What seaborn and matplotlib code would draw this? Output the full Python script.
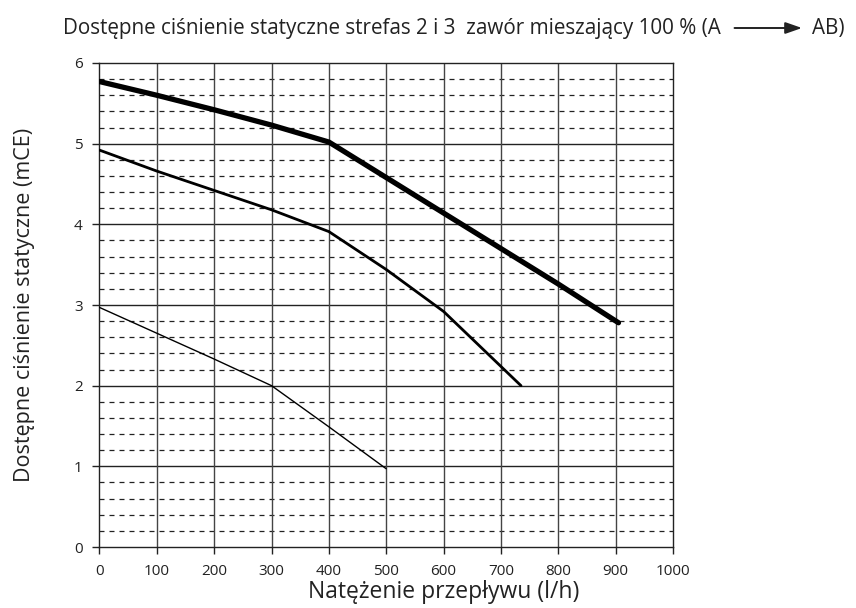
import matplotlib
matplotlib.use("Agg")
import matplotlib.pyplot as plt
import seaborn as sns
import pandas as pd
import numpy as np

# flow (l/h) vs available static pressure (mCE)
flow_high = [0, 100, 200, 300, 400, 500, 600, 700, 800, 905]
head_high = [5.77, 5.60, 5.42, 5.23, 5.02, 4.58, 4.14, 3.70, 3.26, 2.78]

flow_mid = [0, 100, 200, 300, 400, 500, 600, 735]
head_mid = [4.92, 4.66, 4.42, 4.18, 3.91, 3.44, 2.92, 2.00]

flow_low = [0, 100, 200, 300, 400, 500]
head_low = [2.97, 2.65, 2.33, 2.00, 1.49, 0.97]

x_ticks = [0, 100, 200, 300, 400, 500, 600, 700, 800, 900, 1000]
y_ticks = [0, 1, 2, 3, 4, 5, 6]

title_left = "Dostępne ciśnienie statyczne strefas 2 i 3  zawór mieszający 100 % (A"
title_right = "AB)"
xlabel = "Natężenie przepływu (l/h)"
ylabel = "Dostępne ciśnienie statyczne (mCE)"

sns.set_style("white")
plt.rcParams["font.family"] = ["Open Sans", "DejaVu Sans"]

fig = plt.figure(figsize=(8.56, 6.08), dpi=100)
ax = fig.add_axes([0.1162, 0.1003, 0.670, 0.7961])

# grid: dashed minor rows, solid major rows/cols
for v in np.arange(0.2, 6.0, 0.2):
    if abs(v - round(v)) > 1e-6:
        ax.axhline(v, color="#222222", lw=0.9, ls=(0, (4, 4)), zorder=1)
for v in y_ticks[1:-1]:
    ax.axhline(v, color="#222222", lw=1.0, zorder=1)
for v in x_ticks[1:-1]:
    ax.axvline(v, color="#444444", lw=1.0, zorder=1)

sns.lineplot(x=flow_high, y=head_high, ax=ax, color="black", linewidth=3.8,
             sort=False, zorder=3)
sns.lineplot(x=flow_mid, y=head_mid, ax=ax, color="black", linewidth=2.0,
             sort=False, zorder=3)
sns.lineplot(x=flow_low, y=head_low, ax=ax, color="black", linewidth=1.0,
             sort=False, zorder=3)

ax.set_xlim(0, 1000)
ax.set_ylim(0, 6)
ax.set_xticks(x_ticks)
ax.set_yticks(y_ticks)
ax.tick_params(axis="both", direction="out", length=5, width=1, color="#222222",
               labelsize=11, labelcolor="#222222", pad=6)
ax.tick_params(axis="x", bottom=True, pad=7)
ax.tick_params(axis="y", left=True, pad=7)
for s in ax.spines.values():
    s.set_color("#222222")
    s.set_linewidth(1.0)

ax.set_xlabel(xlabel, fontsize=16.5, color="#222222", labelpad=1)
ax.xaxis.label.set_x(0.60)
ax.set_ylabel(ylabel, fontsize=15.5, color="#222222", labelpad=28)

# title with arrow between "A" and "AB"
t = fig.text(63 / 856, 1 - 34 / 608, title_left, fontsize=14.9, color="#222222",
             ha="left", va="baseline")
fig.canvas.draw()
bb = t.get_window_extent()
x0 = (bb.x1 + 11) / 856
x1 = x0 + 73 / 856
ya = 1 - 28 / 608
fig.add_artist(matplotlib.patches.FancyArrowPatch(
    (x0, ya), (x1, ya), transform=fig.transFigure, arrowstyle="-|>,head_length=10,head_width=3.5",
    color="#222222", lw=1.4, mutation_scale=1))
fig.text(x1 + 7 / 856, 1 - 34 / 608, title_right, fontsize=14.9, color="#222222",
         ha="left", va="baseline")

fig.savefig("out.png", dpi=100)
